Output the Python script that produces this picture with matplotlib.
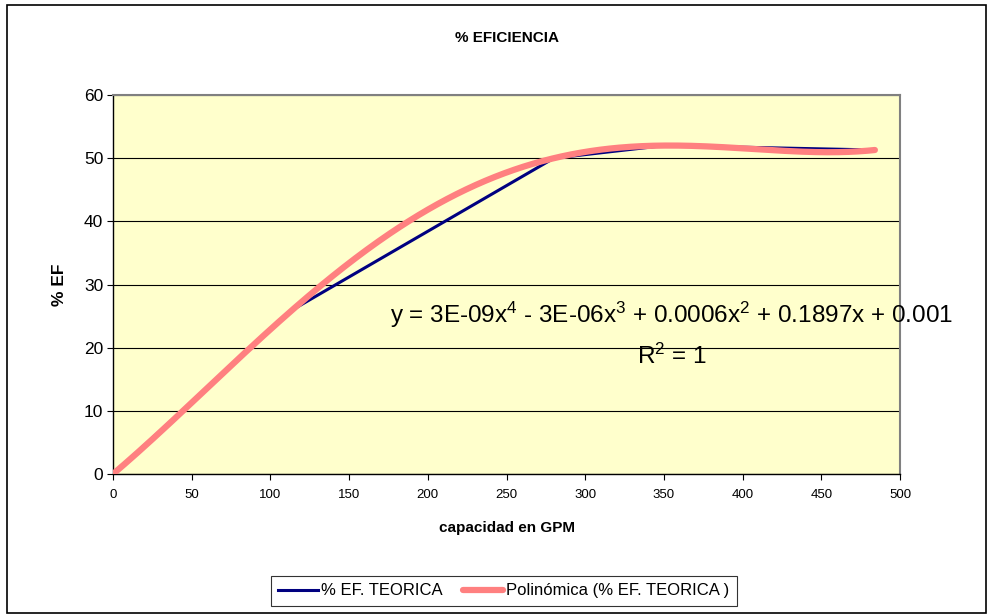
import numpy as np
import matplotlib.pyplot as plt
from matplotlib.patches import Rectangle

plt.rcParams['font.family'] = ['Liberation Sans', 'DejaVu Sans']
plt.rcParams['mathtext.fontset'] = 'custom'
plt.rcParams['mathtext.rm'] = 'Liberation Sans'
plt.rcParams['mathtext.it'] = 'Liberation Sans'

# capacidad (GPM) vs % eficiencia teorica
gpm = [0, 114, 280, 350, 484]
ef_teorica = [0, 26, 50, 52, 51.3]

x_ticks = [0, 50, 100, 150, 200, 250, 300, 350, 400, 450, 500]
y_ticks = [0, 10, 20, 30, 40, 50, 60]

eq_text = ("y = 3E-09x$^4$ - 3E-06x$^3$ + 0.0006x$^2$ + 0.1897x + 0.001")
r2_text = "R$^2$ = 1"

# polynomial trendline (order 4) through the data
coef = np.polyfit(gpm, ef_teorica, 4)
xs = np.linspace(min(gpm), max(gpm), 400)
ys = np.polyval(coef, xs)

fig = plt.figure(figsize=(9.88, 6.14), dpi=100)
ax = fig.add_axes([0.1144, 0.228, 0.7966, 0.6172])
ax.set_facecolor('#FFFFCC')

ax.plot(gpm, ef_teorica, color='#000080', lw=2.2, label='% EF. TEORICA', zorder=3)
ax.plot(xs, ys, color='#FF8080', lw=4.5, solid_capstyle='round',
        label='Polinómica (% EF. TEORICA )', zorder=4)

ax.set_xlim(0, 500)
ax.set_ylim(0, 60)
ax.set_xticks(x_ticks)
ax.set_yticks(y_ticks)
ax.tick_params(axis='x', labelsize=9.5, direction='out', length=4, pad=7)
ax.tick_params(axis='y', labelsize=12.5, direction='out', length=4, pad=3)
ax.yaxis.grid(True, color='black', lw=0.8)
ax.set_axisbelow(True)

for side in ['top', 'right']:
    ax.spines[side].set_color('#808080')
    ax.spines[side].set_linewidth(1.5)
for side in ['left', 'bottom']:
    ax.spines[side].set_color('black')
    ax.spines[side].set_linewidth(1.0)

ax.set_title('% EFICIENCIA', fontsize=11, fontweight='bold', pad=38)
ax.set_xlabel('capacidad en GPM', fontsize=11, fontweight='bold', labelpad=14)
ax.set_ylabel('% EF', fontsize=12.5, fontweight='bold', labelpad=12)

ax.text(0.71, 0.42, eq_text, transform=ax.transAxes, fontsize=17.5,
        ha='center', va='center', zorder=5)
ax.text(0.71, 0.31, r2_text, transform=ax.transAxes, fontsize=17.5,
        ha='center', va='center', zorder=5)

leg = fig.legend(loc='center', bbox_to_anchor=(0.51, 0.0375), ncol=2,
                 fontsize=12, frameon=True, fancybox=False, edgecolor='black',
                 handlelength=2.4, columnspacing=1.2, handletextpad=0.2,
                 borderpad=0.45)
leg.get_frame().set_linewidth(0.8)

fig.patches.append(Rectangle((0.007, 0.002), 0.991, 0.99, transform=fig.transFigure,
                             fill=False, edgecolor='black', lw=1.2))

fig.savefig('out.png', dpi=100)
